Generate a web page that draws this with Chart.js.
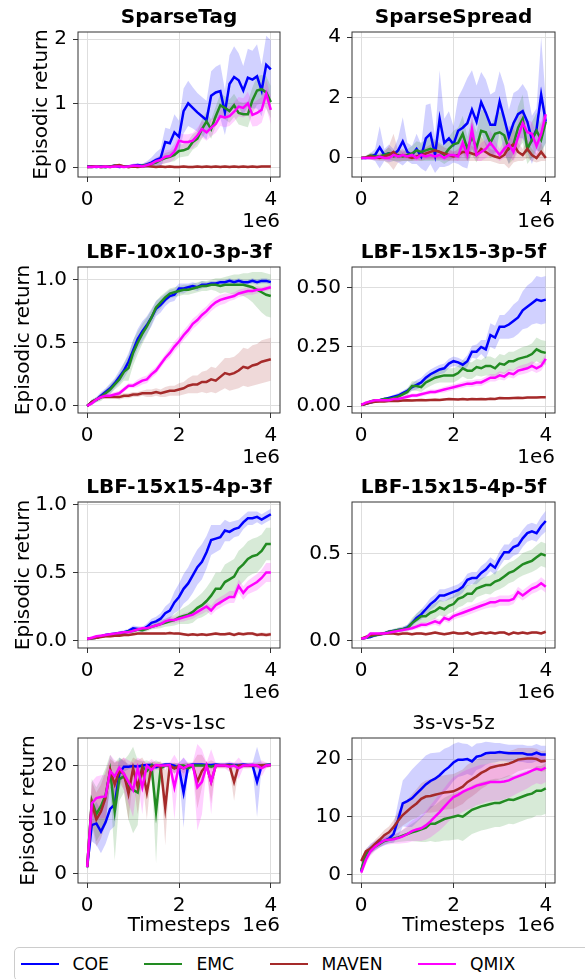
<!DOCTYPE html>
<html lang="en">
<head>
<meta charset="UTF-8">
<title>Episodic return curves</title>
<script src="https://cdn.jsdelivr.net/npm/chart.js@4"></script>
<style>
    body {
        margin: 0;
        width: 585px;
        height: 979px;
        overflow: hidden;
        position: relative;
        background: #fff;
        font-family: "DejaVu Sans", sans-serif;
    }
    .panel { position: absolute; }
    #legend {
        position: absolute;
        left: 14px;
        top: 947px;
        width: 620px;
        height: 32px;
        border: 1px solid #cccccc;
        border-radius: 5px;
        display: flex;
        align-items: center;
        padding-left: 5.5px;
        box-sizing: content-box;
        font-size: 17.2px;
        color: #000;
    }
    #legend .item { display: flex; align-items: center; margin-right: 35.5px; }
    #legend .swatch { width: 38px; height: 2.5px; margin-right: 14px; }
</style>
</head>
<body>
<div id="legend"></div>
<script>
// x axis, in units of 1e6 timesteps
const timesteps = [0, 0.1, 0.2, 0.3, 0.4, 0.5, 0.6, 0.7, 0.8, 0.9,
    1.0, 1.1, 1.2, 1.3, 1.4, 1.5, 1.6, 1.7, 1.8, 1.9,
    2.0, 2.1, 2.2, 2.3, 2.4, 2.5, 2.6, 2.7, 2.8, 2.9,
    3.0, 3.1, 3.2, 3.3, 3.4, 3.5, 3.6, 3.7, 3.8, 3.9, 4.0];
const xTicks = [0, 2, 4];
const xTickLabels = ['0', '2', '4'];

// ---- SparseTag ----
const tagCOE = [0.02,0.02,0.01,0.02,0.01,0.02,0.03,0.01,0.02,0.02, 0.03,0.04,0.03,0.05,0.08,0.12,0.15,0.40,0.38,0.55, 0.48,0.88,1.00,0.93,0.86,0.80,0.74,1.12,1.17,1.19, 0.86,1.30,1.41,1.36,1.20,1.40,1.37,1.42,1.20,1.60, 1.53];
const tagCOEStd = [0.02,0.02,0.02,0.02,0.02,0.02,0.02,0.02,0.02,0.02, 0.03,0.03,0.03,0.05,0.08,0.12,0.15,0.22,0.22,0.28, 0.25,0.35,0.35,0.32,0.30,0.30,0.30,0.38,0.40,0.42, 0.35,0.45,0.48,0.42,0.38,0.45,0.45,0.50,0.40,0.45, 0.45];
const tagEMC = [0.01,0.01,0.02,0.01,0.01,0.02,0.03,0.03,0.02,0.01, 0.02,0.02,0.03,0.04,0.06,0.08,0.12,0.15,0.17,0.20, 0.26,0.27,0.30,0.40,0.45,0.60,0.72,0.60,0.80,0.97, 0.93,0.88,0.97,0.85,0.83,0.83,1.05,1.20,1.22,1.17, 1.02];
const tagEMCStd = [0.02,0.02,0.02,0.02,0.02,0.02,0.02,0.02,0.02,0.02, 0.02,0.02,0.03,0.04,0.05,0.06,0.07,0.08,0.08,0.10, 0.10,0.10,0.12,0.12,0.12,0.15,0.15,0.15,0.15,0.18, 0.18,0.18,0.18,0.18,0.18,0.20,0.20,0.22,0.22,0.25, 0.25];
const tagMAVEN = [0.01,0.02,0.02,0.01,0.02,0.01,0.03,0.04,0.02,0.01, 0.02,0.01,0.02,0.03,0.02,0.01,0.02,0.01,0.02,0.01, 0.01,0.02,0.01,0.01,0.02,0.01,0.02,0.01,0.02,0.01, 0.02,0.01,0.02,0.01,0.02,0.01,0.02,0.01,0.02,0.02, 0.02];
const tagMAVENStd = [0.02,0.02,0.02,0.02,0.02,0.02,0.02,0.02,0.02,0.02, 0.02,0.02,0.02,0.02,0.02,0.02,0.02,0.02,0.02,0.02, 0.02,0.02,0.02,0.02,0.02,0.02,0.02,0.02,0.02,0.02, 0.02,0.02,0.02,0.02,0.02,0.02,0.02,0.02,0.02,0.02, 0.02];
const tagQMIX = [0.01,0.01,0.02,0.01,0.02,0.01,0.02,0.02,0.01,0.02, 0.03,0.03,0.02,0.04,0.06,0.10,0.12,0.17,0.18,0.25, 0.42,0.40,0.40,0.42,0.50,0.60,0.55,0.62,0.68,0.80, 0.78,0.80,0.87,0.95,0.93,1.00,0.82,0.85,0.90,1.15, 0.90];
const tagQMIXStd = [0.02,0.02,0.02,0.02,0.02,0.02,0.02,0.02,0.02,0.02, 0.03,0.03,0.03,0.04,0.05,0.06,0.08,0.10,0.10,0.12, 0.12,0.12,0.12,0.12,0.12,0.13,0.13,0.13,0.14,0.15, 0.15,0.15,0.15,0.15,0.15,0.18,0.18,0.20,0.20,0.22, 0.22];
const tagYTicks = [0, 1, 2];
const tagYLabels = ['0', '1', '2'];

// ---- SparseSpread ----
const spreadCOE = [0.0,0.0,0.05,0.1,0.35,0.1,0.15,0.1,0.25,0.55, 0.2,0.1,0.3,0.05,0.65,0.8,0.1,1.3,0.5,0.65, 0.45,0.9,1.0,1.15,1.6,1.2,1.85,1.5,1.1,1.1, 1.87,1.3,0.7,1.15,1.45,1.55,1.2,0.6,0.95,2.1, 1.2];
const spreadCOEStd = [0.0,0.05,0.1,0.2,0.7,0.2,0.3,0.2,0.4,0.8, 0.3,0.3,0.5,0.4,1.1,1.0,0.6,1.6,0.8,0.9, 0.6,1.1,1.3,1.5,1.3,1.2,1.0,1.1,1.0,1.1, 1.0,1.1,0.9,1.0,0.8,0.9,1.0,0.8,0.7,1.9, 0.7];
const spreadEMC = [0.0,0.02,0.08,0.05,0.05,0.1,0.15,0.05,0.1,0.05, 0.1,0.15,0.25,0.2,0.25,0.3,0.25,0.2,0.1,0.3, 0.45,0.5,0.8,0.3,0.7,0.35,0.9,0.85,0.5,0.8, 0.85,0.75,0.3,0.45,1.0,1.3,0.3,0.6,0.9,0.6, 1.2];
const spreadEMCStd = [0.0,0.05,0.1,0.1,0.1,0.15,0.2,0.15,0.2,0.15, 0.2,0.25,0.3,0.3,0.35,0.4,0.35,0.3,0.3,0.4, 0.45,0.5,0.6,0.4,0.6,0.5,0.7,0.7,0.5,0.6, 0.7,0.6,0.5,0.5,0.7,0.8,0.5,0.6,0.6,0.5, 0.7];
const spreadMAVEN = [0.0,0.02,0.05,0.02,0.0,0.05,0.1,0.2,0.05,0.1, 0.05,0.0,0.05,0.1,0.15,0.2,0.25,0.2,0.15,0.1, 0.05,0.1,0.2,0.2,0.15,0.1,0.3,0.2,0.1,0.05, 0.0,0.1,0.35,0.45,0.2,0.1,0.3,0.1,0.0,0.2, 0.0];
const spreadMAVENStd = [0.0,0.05,0.1,0.1,0.1,0.15,0.3,0.6,0.2,0.2, 0.15,0.1,0.15,0.2,0.2,0.25,0.3,0.25,0.2,0.2, 0.15,0.2,0.3,0.3,0.25,0.2,0.4,0.3,0.2,0.2, 0.2,0.3,0.7,0.6,0.3,0.2,0.3,0.2,0.15,0.3, 0.1];
const spreadQMIX = [0.0,0.0,0.0,0.0,0.05,0.0,0.0,0.1,0.05,0.1, 0.05,0.1,0.0,0.1,0.05,0.1,0.05,0.1,0.0,0.1, 0.1,0.05,0.5,0.1,0.95,0.1,0.2,0.3,0.5,0.3, 0.1,0.3,0.45,0.2,0.7,1.15,0.85,0.8,0.4,0.8, 1.45];
const spreadQMIXStd = [0.0,0.02,0.05,0.05,0.1,0.05,0.1,0.15,0.1,0.15, 0.1,0.15,0.1,0.15,0.1,0.15,0.1,0.15,0.1,0.15, 0.15,0.15,0.4,0.2,0.6,0.2,0.3,0.3,0.4,0.3, 0.2,0.3,0.4,0.3,0.5,0.5,0.4,0.4,0.4,0.4, 0.3];
const spreadYTicks = [0, 2, 4];
const spreadYLabels = ['0', '2', '4'];

// ---- LBF-10x10-3p-3f ----
const l10COE = [0.0,0.03,0.05,0.08,0.11,0.14,0.18,0.23,0.28,0.35, 0.44,0.53,0.59,0.64,0.70,0.77,0.80,0.84,0.87,0.88, 0.93,0.93,0.94,0.95,0.94,0.96,0.96,0.97,0.97,0.98, 0.98,0.99,0.98,0.99,0.98,0.98,0.99,0.98,0.99,0.99, 0.98];
const l10COEStd = [0.01,0.02,0.02,0.03,0.03,0.04,0.04,0.05,0.06,0.07, 0.08,0.08,0.08,0.07,0.07,0.06,0.06,0.05,0.05,0.05, 0.04,0.04,0.03,0.03,0.03,0.03,0.02,0.02,0.02,0.02, 0.02,0.02,0.02,0.02,0.02,0.02,0.02,0.02,0.02,0.02, 0.02];
const l10EMC = [0.0,0.03,0.05,0.07,0.10,0.13,0.17,0.21,0.27,0.30, 0.42,0.50,0.57,0.63,0.70,0.78,0.82,0.86,0.89,0.90, 0.91,0.92,0.92,0.93,0.94,0.95,0.95,0.96,0.96,0.95, 0.96,0.96,0.96,0.96,0.96,0.95,0.94,0.92,0.90,0.88, 0.87];
const l10EMCStd = [0.01,0.02,0.02,0.03,0.03,0.04,0.04,0.05,0.07,0.10, 0.10,0.09,0.08,0.07,0.06,0.05,0.05,0.04,0.04,0.04, 0.04,0.04,0.04,0.04,0.04,0.04,0.04,0.04,0.05,0.06, 0.06,0.07,0.08,0.08,0.09,0.10,0.12,0.14,0.16,0.17, 0.17];
const l10MAVEN = [0.0,0.03,0.05,0.07,0.07,0.07,0.07,0.07,0.08,0.08, 0.09,0.09,0.10,0.10,0.10,0.11,0.10,0.11,0.12,0.12, 0.13,0.14,0.16,0.17,0.17,0.19,0.19,0.21,0.20,0.23, 0.26,0.25,0.26,0.28,0.31,0.30,0.32,0.33,0.35,0.36, 0.37];
const l10MAVENStd = [0.01,0.01,0.01,0.01,0.01,0.01,0.01,0.02,0.02,0.02, 0.02,0.02,0.02,0.03,0.03,0.03,0.03,0.04,0.04,0.04, 0.05,0.05,0.06,0.07,0.07,0.08,0.09,0.10,0.10,0.11, 0.12,0.13,0.13,0.14,0.15,0.15,0.16,0.16,0.17,0.17, 0.17];
const l10QMIX = [0.0,0.02,0.05,0.07,0.08,0.08,0.09,0.10,0.13,0.16, 0.16,0.18,0.20,0.21,0.25,0.28,0.33,0.38,0.42,0.47, 0.51,0.56,0.60,0.65,0.68,0.72,0.75,0.79,0.82,0.84, 0.85,0.86,0.87,0.89,0.90,0.91,0.91,0.92,0.92,0.93, 0.94];
const l10QMIXStd = [0.01,0.01,0.01,0.02,0.02,0.02,0.02,0.02,0.02,0.02, 0.02,0.03,0.03,0.03,0.03,0.03,0.03,0.03,0.04,0.04, 0.04,0.04,0.04,0.04,0.04,0.04,0.04,0.04,0.04,0.04, 0.04,0.03,0.03,0.03,0.03,0.03,0.03,0.03,0.02,0.02, 0.02];
const l10YTicks = [0, 0.5, 1.0];
const l10YLabels = ['0.0', '0.5', '1.0'];

// ---- LBF-15x15-3p-5f ----
const l3p5fCOE = [0.005,0.01,0.015,0.02,0.025,0.03,0.035,0.04,0.045,0.055, 0.065,0.08,0.09,0.1,0.12,0.135,0.145,0.155,0.16,0.18, 0.19,0.185,0.175,0.19,0.23,0.23,0.25,0.24,0.3,0.29, 0.335,0.335,0.345,0.36,0.375,0.405,0.42,0.435,0.45,0.445, 0.45];
const l3p5fCOEStd = [0.003,0.005,0.005,0.005,0.005,0.005,0.006,0.008,0.01,0.01, 0.012,0.015,0.02,0.02,0.02,0.02,0.02,0.02,0.02,0.02, 0.02,0.02,0.02,0.025,0.025,0.03,0.03,0.04,0.05,0.05, 0.05,0.05,0.06,0.07,0.07,0.08,0.09,0.09,0.1,0.1, 0.1];
const l3p5fEMC = [0.005,0.01,0.02,0.025,0.025,0.03,0.03,0.035,0.04,0.05, 0.06,0.085,0.085,0.08,0.1,0.11,0.12,0.125,0.13,0.13, 0.13,0.14,0.16,0.15,0.15,0.165,0.16,0.17,0.17,0.16, 0.18,0.175,0.19,0.19,0.2,0.205,0.21,0.22,0.24,0.23, 0.225];
const l3p5fEMCStd = [0.003,0.005,0.005,0.005,0.005,0.005,0.005,0.006,0.008,0.01, 0.015,0.02,0.02,0.02,0.025,0.025,0.025,0.025,0.03,0.03, 0.03,0.03,0.035,0.035,0.035,0.035,0.035,0.04,0.04,0.04, 0.04,0.04,0.04,0.04,0.04,0.045,0.045,0.045,0.05,0.05, 0.05];
const l3p5fMAVEN = [0.005,0.01,0.015,0.018,0.02,0.02,0.022,0.022,0.022,0.024, 0.025,0.024,0.025,0.026,0.025,0.026,0.027,0.026,0.028,0.03, 0.029,0.028,0.03,0.028,0.03,0.029,0.03,0.029,0.031,0.03, 0.034,0.033,0.033,0.034,0.035,0.034,0.036,0.036,0.037,0.038, 0.038];
const l3p5fMAVENStd = [0.003,0.004,0.004,0.004,0.004,0.004,0.004,0.004,0.004,0.004, 0.004,0.004,0.004,0.004,0.004,0.004,0.004,0.004,0.004,0.004, 0.004,0.004,0.004,0.004,0.004,0.004,0.004,0.004,0.004,0.004, 0.004,0.004,0.004,0.004,0.004,0.004,0.004,0.004,0.004,0.004, 0.004];
const l3p5fQMIX = [0.005,0.015,0.02,0.025,0.025,0.025,0.025,0.03,0.03,0.035, 0.04,0.045,0.045,0.05,0.055,0.06,0.06,0.065,0.07,0.075, 0.08,0.085,0.09,0.095,0.095,0.1,0.1,0.11,0.12,0.12, 0.13,0.125,0.14,0.135,0.15,0.155,0.16,0.17,0.16,0.17, 0.2];
const l3p5fQMIXStd = [0.003,0.005,0.005,0.005,0.005,0.005,0.005,0.006,0.006,0.007, 0.008,0.008,0.008,0.009,0.01,0.01,0.01,0.01,0.012,0.012, 0.012,0.012,0.013,0.013,0.014,0.014,0.015,0.015,0.016,0.016, 0.017,0.017,0.018,0.018,0.019,0.02,0.02,0.02,0.02,0.02, 0.02];
const l3p5fYTicks = [0, 0.25, 0.5];
const l3p5fYLabels = ['0.00', '0.25', '0.50'];

// ---- LBF-15x15-4p-3f ----
const l4p3fCOE = [0.01,0.015,0.02,0.03,0.04,0.045,0.05,0.055,0.06,0.07, 0.09,0.085,0.08,0.1,0.13,0.14,0.16,0.2,0.22,0.28, 0.32,0.38,0.42,0.48,0.54,0.58,0.65,0.74,0.75,0.76, 0.81,0.8,0.82,0.83,0.87,0.9,0.9,0.91,0.89,0.91, 0.93];
const l4p3fCOEStd = [0.005,0.005,0.005,0.008,0.01,0.01,0.01,0.012,0.015,0.015, 0.02,0.02,0.02,0.025,0.03,0.035,0.04,0.05,0.06,0.08, 0.1,0.11,0.12,0.13,0.13,0.13,0.12,0.11,0.1,0.09, 0.08,0.07,0.06,0.06,0.05,0.05,0.05,0.04,0.04,0.04, 0.04];
const l4p3fEMC = [0.01,0.015,0.02,0.03,0.035,0.04,0.045,0.05,0.055,0.065, 0.07,0.08,0.075,0.085,0.1,0.11,0.12,0.13,0.14,0.15, 0.17,0.18,0.19,0.21,0.24,0.26,0.29,0.33,0.38,0.38, 0.43,0.45,0.47,0.53,0.56,0.6,0.62,0.63,0.66,0.71, 0.71];
const l4p3fEMCStd = [0.005,0.005,0.005,0.008,0.01,0.01,0.01,0.01,0.012,0.012, 0.015,0.015,0.015,0.02,0.02,0.025,0.03,0.03,0.035,0.04, 0.05,0.06,0.07,0.08,0.08,0.09,0.1,0.11,0.12,0.12, 0.13,0.13,0.13,0.13,0.13,0.13,0.13,0.13,0.12,0.12, 0.12];
const l4p3fMAVEN = [0.01,0.015,0.02,0.025,0.03,0.03,0.035,0.035,0.04,0.04, 0.045,0.05,0.05,0.05,0.05,0.05,0.05,0.05,0.055,0.05, 0.05,0.045,0.04,0.045,0.04,0.045,0.04,0.045,0.05,0.045, 0.045,0.05,0.04,0.05,0.045,0.05,0.05,0.04,0.045,0.04, 0.045];
const l4p3fMAVENStd = [0.005,0.008,0.008,0.008,0.01,0.01,0.01,0.01,0.01,0.01, 0.01,0.01,0.01,0.01,0.01,0.01,0.01,0.01,0.01,0.01, 0.01,0.01,0.01,0.01,0.01,0.01,0.01,0.01,0.012,0.012, 0.012,0.012,0.012,0.012,0.012,0.012,0.012,0.012,0.015,0.015, 0.015];
const l4p3fQMIX = [0.01,0.02,0.03,0.035,0.04,0.045,0.05,0.055,0.06,0.06, 0.07,0.08,0.09,0.09,0.1,0.11,0.12,0.14,0.15,0.15, 0.16,0.17,0.18,0.19,0.21,0.23,0.25,0.22,0.26,0.28, 0.3,0.32,0.32,0.4,0.35,0.39,0.41,0.43,0.46,0.5, 0.5];
const l4p3fQMIXStd = [0.005,0.005,0.008,0.01,0.01,0.01,0.01,0.01,0.01,0.01, 0.012,0.012,0.015,0.015,0.015,0.02,0.02,0.02,0.025,0.025, 0.025,0.03,0.03,0.03,0.03,0.035,0.035,0.035,0.04,0.04, 0.04,0.045,0.045,0.05,0.05,0.05,0.055,0.06,0.06,0.07, 0.07];
const l4p3fYTicks = [0, 0.5, 1.0];
const l4p3fYLabels = ['0.0', '0.5', '1.0'];

// ---- LBF-15x15-4p-5f ----
const l4p5fCOE = [0.01,0.015,0.02,0.03,0.035,0.04,0.05,0.055,0.06,0.065, 0.075,0.1,0.13,0.15,0.18,0.21,0.23,0.26,0.26,0.27, 0.28,0.29,0.31,0.35,0.36,0.36,0.39,0.41,0.44,0.42, 0.47,0.51,0.51,0.54,0.55,0.59,0.62,0.63,0.62,0.66, 0.69];
const l4p5fCOEStd = [0.005,0.005,0.008,0.01,0.01,0.01,0.01,0.01,0.012,0.012, 0.015,0.02,0.025,0.03,0.03,0.035,0.035,0.035,0.035,0.035, 0.035,0.035,0.035,0.035,0.035,0.035,0.04,0.04,0.04,0.04, 0.045,0.045,0.045,0.05,0.05,0.05,0.05,0.05,0.05,0.055, 0.06];
const l4p5fEMC = [0.01,0.015,0.025,0.03,0.035,0.04,0.05,0.055,0.06,0.065, 0.07,0.1,0.12,0.14,0.14,0.16,0.17,0.19,0.18,0.2, 0.21,0.24,0.25,0.27,0.27,0.3,0.31,0.32,0.32,0.34, 0.35,0.37,0.39,0.4,0.42,0.44,0.45,0.46,0.48,0.5, 0.49];
const l4p5fEMCStd = [0.005,0.005,0.008,0.01,0.01,0.01,0.01,0.012,0.015,0.015, 0.02,0.03,0.035,0.04,0.04,0.045,0.045,0.045,0.045,0.045, 0.045,0.05,0.05,0.05,0.05,0.05,0.05,0.05,0.055,0.055, 0.055,0.06,0.06,0.06,0.06,0.065,0.065,0.065,0.07,0.07, 0.07];
const l4p5fMAVEN = [0.01,0.02,0.03,0.035,0.035,0.04,0.04,0.04,0.035,0.04, 0.04,0.035,0.04,0.04,0.035,0.04,0.045,0.04,0.035,0.04, 0.045,0.04,0.04,0.045,0.035,0.04,0.045,0.04,0.045,0.04, 0.045,0.045,0.035,0.045,0.04,0.045,0.04,0.045,0.045,0.04, 0.05];
const l4p5fMAVENStd = [0.005,0.008,0.008,0.008,0.008,0.008,0.008,0.008,0.008,0.008, 0.008,0.008,0.008,0.008,0.008,0.008,0.008,0.008,0.008,0.008, 0.008,0.008,0.008,0.008,0.008,0.008,0.008,0.008,0.008,0.008, 0.008,0.008,0.008,0.008,0.008,0.008,0.008,0.008,0.008,0.008, 0.008];
const l4p5fQMIX = [0.01,0.015,0.04,0.04,0.04,0.04,0.045,0.05,0.055,0.06, 0.065,0.07,0.08,0.09,0.09,0.1,0.11,0.1,0.13,0.12, 0.14,0.15,0.16,0.17,0.18,0.19,0.2,0.21,0.22,0.22, 0.23,0.23,0.23,0.24,0.28,0.26,0.28,0.3,0.31,0.33, 0.31];
const l4p5fQMIXStd = [0.005,0.005,0.008,0.008,0.008,0.01,0.01,0.01,0.01,0.01, 0.012,0.012,0.015,0.015,0.015,0.015,0.02,0.02,0.02,0.02, 0.02,0.02,0.025,0.025,0.025,0.025,0.025,0.025,0.03,0.03, 0.03,0.03,0.03,0.03,0.03,0.03,0.03,0.03,0.03,0.035, 0.035];
const l4p5fYTicks = [0, 0.5];
const l4p5fYLabels = ['0.0', '0.5'];

// ---- 2s-vs-1sc ----
const sc1COE = [1.2,9.0,9.3,7.8,9.5,12.0,12.8,18.5,19.8,19.8, 19.9,19.8,20.0,20.1,20.1,19.7,20.0,20.2,20.2,20.0, 19.5,15.0,20.0,20.2,20.2,20.2,20.1,20.1,20.2,20.1, 20.1,20.2,20.1,20.1,20.2,20.1,20.1,17.0,20.0,20.1, 20.2];
const sc1COEStd = [0.5,3.0,4.0,4.0,4.0,4.0,4.0,3.0,1.0,0.5, 0.3,0.5,0.3,0.3,0.3,0.5,0.3,0.3,0.3,0.3, 1.0,6.5,0.3,0.3,0.3,0.3,0.3,0.3,0.3,0.3, 0.3,0.3,0.3,0.3,0.3,0.3,0.3,6.5,0.5,0.3, 0.3];
const sc1EMC = [1.2,13.5,11.0,12.5,14.5,19.0,11.5,17.5,18.0,16.0, 15.5,15.0,19.8,19.0,20.0,11.5,19.5,20.0,20.0,19.5, 20.0,20.0,19.5,20.0,20.0,20.0,20.0,19.8,20.0,20.0, 20.0,20.0,20.0,19.9,20.0,20.0,20.0,20.0,20.0,20.1, 20.1];
const sc1EMCStd = [0.5,4.0,5.0,5.0,5.0,3.0,9.0,4.0,3.0,6.0, 8.0,6.0,1.0,2.0,0.5,9.5,1.0,0.3,0.3,1.0, 0.3,0.3,1.0,0.3,0.3,0.3,0.3,0.5,0.3,0.3, 0.3,0.3,0.3,0.3,0.3,0.3,0.3,0.3,0.3,0.3, 0.3];
const sc1MAVEN = [1.2,13.0,10.0,11.5,14.0,19.2,16.5,19.0,18.5,14.8, 19.5,16.0,19.5,15.0,19.8,20.0,19.8,12.2,20.0,19.5, 19.8,19.5,20.0,20.0,17.0,19.0,20.0,17.0,20.0,20.0, 20.0,20.0,17.0,20.0,20.0,20.0,20.0,20.0,20.0,20.0, 20.1];
const sc1MAVENStd = [0.5,4.0,5.0,5.0,5.0,2.0,4.0,2.0,3.0,5.0, 2.0,5.0,2.0,5.0,1.0,0.5,1.0,7.0,0.5,1.0, 0.5,1.0,0.5,0.5,5.0,3.0,0.5,4.0,0.5,0.5, 0.5,0.5,3.5,0.5,0.5,0.5,0.5,0.5,0.5,0.5, 0.3];
const sc1QMIX = [1.2,13.0,14.0,14.2,14.3,19.0,18.0,19.6,18.5,17.0, 15.5,19.5,16.0,20.0,19.2,20.1,20.0,20.0,20.1,16.0, 20.0,19.5,20.0,20.1,16.0,17.0,20.0,17.0,20.0,20.0, 20.0,19.8,20.0,19.5,20.0,20.0,20.1,20.0,19.5,20.0, 20.1];
const sc1QMIXStd = [0.5,4.0,4.0,4.0,4.0,3.0,3.0,1.0,3.0,4.0, 5.0,2.0,5.0,0.5,2.0,0.5,0.5,0.5,0.5,6.0, 0.5,2.0,0.5,0.5,8.0,6.0,0.5,6.0,0.5,0.5, 0.5,1.0,0.5,2.0,0.5,0.5,0.5,0.5,1.5,0.5, 0.3];
const sc1YTicks = [0, 10, 20];
const sc1YLabels = ['0', '10', '20'];

// ---- 3s-vs-5z ----
const z5COE = [0.5,3.5,4.5,5.0,5.5,5.8,6.2,7.0,9.5,12.3, 12.7,13.2,14.0,14.8,15.6,16.2,16.6,17.2,18.0,18.6, 19.4,19.9,19.9,20.0,19.6,20.4,20.6,21.0,21.1,21.1, 21.2,21.1,21.0,21.0,21.0,21.0,20.8,20.8,21.1,20.8, 20.8];
const z5COEStd = [0.5,0.8,0.8,0.8,0.8,0.8,0.8,1.5,3.0,4.0, 4.5,5.0,5.0,5.0,5.0,4.8,4.5,4.0,3.8,3.5, 3.2,3.0,2.8,2.6,2.5,2.3,2.2,2.0,1.8,1.7, 1.6,1.5,1.5,1.5,1.5,1.5,1.5,1.5,1.5,1.5, 1.5];
const z5EMC = [0.8,3.5,4.0,4.8,5.3,5.8,6.0,6.2,6.4,6.7, 7.0,7.3,7.5,7.8,8.1,8.8,8.8,9.2,9.6,9.8, 10.0,10.2,10.0,10.6,11.2,11.5,11.8,12.0,12.2,12.4, 12.4,12.7,13.0,12.9,13.2,13.5,13.8,14.0,14.5,14.5, 14.9];
const z5EMCStd = [0.5,0.6,0.6,0.6,0.6,0.6,0.6,0.7,0.8,1.0, 1.2,1.5,1.8,2.2,2.5,3.0,3.2,3.5,3.7,3.9, 4.0,4.1,4.2,4.2,4.2,4.2,4.2,4.2,4.2,4.2, 4.2,4.2,4.2,4.2,4.2,4.2,4.2,4.2,4.3,4.3, 4.4];
const z5MAVEN = [2.3,4.0,4.5,5.3,6.0,6.8,7.3,8.2,9.3,10.3, 11.0,11.7,12.3,13.1,13.5,13.6,13.8,14.0,14.2,14.3, 14.4,14.8,15.2,16.0,16.5,17.0,17.6,18.0,18.5,18.7, 18.9,19.0,19.2,19.5,19.9,20.0,20.1,20.1,20.0,19.6, 19.7];
const z5MAVENStd = [0.5,0.5,0.6,0.7,0.8,0.9,1.0,1.2,1.5,1.8, 2.0,2.2,2.5,2.7,2.8,2.9,3.0,3.0,3.0,3.0, 3.0,3.0,3.0,3.0,3.0,2.9,2.8,2.7,2.6,2.5, 2.4,2.3,2.2,2.1,2.0,1.9,1.8,1.8,1.8,1.8, 1.8];
const z5QMIX = [0.3,2.5,4.0,4.8,5.4,5.9,6.0,6.1,6.3,6.6, 7.0,7.5,7.8,8.0,8.5,9.2,10.0,10.8,11.7,12.6, 13.4,13.8,14.3,14.7,15.0,15.4,15.6,15.8,16.0,16.0, 16.0,16.1,16.3,16.7,17.0,17.3,17.6,18.0,18.3,18.1, 18.5];
const z5QMIXStd = [0.5,0.8,0.8,0.8,0.8,0.8,0.8,0.8,1.0,1.2, 1.5,1.8,2.0,2.2,2.5,2.8,3.0,3.2,3.3,3.4, 3.5,3.5,3.5,3.5,3.5,3.4,3.4,3.3,3.3,3.2, 3.2,3.1,3.0,3.0,2.9,2.8,2.7,2.6,2.5,2.5, 2.5];
const z5YTicks = [0, 10, 20];
const z5YLabels = ['0', '10', '20'];

// methods and their styles
const methodNames = ['COE', 'EMC', 'MAVEN', 'QMIX'];
const methodColors = ['#0000ff', '#228b22', '#a52a2a', '#ff00ff'];
const bandColors = ['rgba(0,0,255,0.18)', 'rgba(34,139,34,0.18)', 'rgba(165,42,42,0.18)', 'rgba(255,0,255,0.18)'];

const panels = [
    { title: 'SparseTag', bold: true, mean: [tagCOE, tagEMC, tagMAVEN, tagQMIX], std: [tagCOEStd, tagEMCStd, tagMAVENStd, tagQMIXStd], yMin: -0.145, yMax: 2.11, yTicks: tagYTicks, yLabels: tagYLabels },
    { title: 'SparseSpread', bold: true, mean: [spreadCOE, spreadEMC, spreadMAVEN, spreadQMIX], std: [spreadCOEStd, spreadEMCStd, spreadMAVENStd, spreadQMIXStd], yMin: -0.63, yMax: 4.17, yTicks: spreadYTicks, yLabels: spreadYLabels },
    { title: 'LBF-10x10-3p-3f', bold: true, mean: [l10COE, l10EMC, l10MAVEN, l10QMIX], std: [l10COEStd, l10EMCStd, l10MAVENStd, l10QMIXStd], yMin: -0.056, yMax: 1.10, yTicks: l10YTicks, yLabels: l10YLabels },
    { title: 'LBF-15x15-3p-5f', bold: true, mean: [l3p5fCOE, l3p5fEMC, l3p5fMAVEN, l3p5fQMIX], std: [l3p5fCOEStd, l3p5fEMCStd, l3p5fMAVENStd, l3p5fQMIXStd], yMin: -0.029, yMax: 0.588, yTicks: l3p5fYTicks, yLabels: l3p5fYLabels },
    { title: 'LBF-15x15-4p-3f', bold: true, mean: [l4p3fCOE, l4p3fEMC, l4p3fMAVEN, l4p3fQMIX], std: [l4p3fCOEStd, l4p3fEMCStd, l4p3fMAVENStd, l4p3fQMIXStd], yMin: -0.056, yMax: 1.02, yTicks: l4p3fYTicks, yLabels: l4p3fYLabels },
    { title: 'LBF-15x15-4p-5f', bold: true, mean: [l4p5fCOE, l4p5fEMC, l4p5fMAVEN, l4p5fQMIX], std: [l4p5fCOEStd, l4p5fEMCStd, l4p5fMAVENStd, l4p5fQMIXStd], yMin: -0.044, yMax: 0.80, yTicks: l4p5fYTicks, yLabels: l4p5fYLabels },
    { title: '2s-vs-1sc', bold: false, mean: [sc1COE, sc1EMC, sc1MAVEN, sc1QMIX], std: [sc1COEStd, sc1EMCStd, sc1MAVENStd, sc1QMIXStd], yMin: -1.72, yMax: 25.1, yTicks: sc1YTicks, yLabels: sc1YLabels },
    { title: '3s-vs-5z', bold: false, mean: [z5COE, z5EMC, z5MAVEN, z5QMIX], std: [z5COEStd, z5EMCStd, z5MAVENStd, z5QMIXStd], yMin: -1.49, yMax: 23.65, yTicks: z5YTicks, yLabels: z5YLabels }
];

// grid cells: canvas placement and axis box sizes
const cols = [
    { left: 0, w: 290, yw: 78, padRight: 10 },
    { left: 290, w: 295, yw: 62, padRight: 30 }
];
const rows = [
    { top: 0, h: 235, padTop: 32, xh: 58, offY: 50 },
    { top: 235, h: 235, padTop: 32, xh: 57, offY: 50 },
    { top: 470, h: 235, padTop: 32, xh: 57, offY: 50 },
    { top: 705, h: 240, padTop: 33, xh: 62, offY: 48 }
];
const yLabelX = [47, 28.5, 28.5, 33.5];

const FONT = '"DejaVu Sans", sans-serif';
Chart.defaults.font.family = FONT;
Chart.defaults.color = '#000';

function toPoints(ys) {
    return timesteps.map((x, i) => ({ x: x, y: ys[i] }));
}

function makePanel(p, idx) {
    const col = cols[idx % 2], row = rows[Math.floor(idx / 2)];
    const rowIdx = Math.floor(idx / 2);
    const canvas = document.createElement('canvas');
    canvas.className = 'panel';
    canvas.width = col.w;
    canvas.height = row.h;
    canvas.style.left = col.left + 'px';
    canvas.style.top = row.top + 'px';
    document.body.appendChild(canvas);

    const datasets = [];
    methodNames.forEach((name, k) => {
        const m = p.mean[k], s = p.std[k];
        datasets.push({ data: toPoints(m.map((v, i) => v + s[i])), borderWidth: 0, borderColor: 'transparent',
            backgroundColor: bandColors[k], fill: '+1', pointRadius: 0, order: 20 - k });
        datasets.push({ data: toPoints(m.map((v, i) => v - s[i])), borderWidth: 0, borderColor: 'transparent',
            fill: false, pointRadius: 0, order: 20 - k });
    });
    methodNames.forEach((name, k) => {
        datasets.push({ label: name, data: toPoints(p.mean[k]), borderColor: methodColors[k], borderWidth: 2.5,
            pointRadius: 0, fill: false, tension: 0, order: 4 - k });
    });

    // axes frame and the text matplotlib puts around each panel
    const decor = {
        id: 'decor' + idx,
        afterDatasetsDraw(chart) {
            const a = chart.chartArea, ctx = chart.ctx;
            ctx.save();
            ctx.strokeStyle = '#333';
            ctx.lineWidth = 1;
            ctx.strokeRect(a.left, a.top, a.right - a.left, a.bottom - a.top);
            ctx.restore();
        },
        afterDraw(chart) {
            const a = chart.chartArea, ctx = chart.ctx;
            const cx = (a.left + a.right) / 2;
            ctx.save();
            ctx.fillStyle = '#000';
            ctx.textBaseline = 'alphabetic';
            ctx.font = (p.bold ? 'bold ' : '') + '20px ' + FONT;
            ctx.textAlign = 'center';
            ctx.fillText(p.title, cx, a.top - 9);
            ctx.font = '20px ' + FONT;
            ctx.textAlign = 'right';
            ctx.fillText('1e6', a.right, a.bottom + row.offY);
            if (rowIdx === 3) {
                ctx.textAlign = 'center';
                ctx.fillText('Timesteps', cx, a.bottom + row.offY);
            }
            if (idx % 2 === 0) {
                ctx.translate(yLabelX[rowIdx], (a.top + a.bottom) / 2);
                ctx.rotate(-Math.PI / 2);
                ctx.textAlign = 'center';
                ctx.fillText('Episodic return', 0, 0);
            }
            ctx.restore();
        }
    };

    new Chart(canvas, {
        type: 'line',
        data: { datasets: datasets },
        options: {
            responsive: false,
            animation: false,
            events: [],
            layout: { padding: { left: 0, top: row.padTop, right: col.padRight, bottom: 0 } },
            plugins: { legend: { display: false }, tooltip: { enabled: false } },
            scales: {
                x: {
                    type: 'linear', min: -0.2, max: 4.2,
                    afterBuildTicks: s => { s.ticks = xTicks.map(v => ({ value: v })); },
                    afterFit: s => { s.height = row.xh; },
                    ticks: { font: { size: 20 }, color: '#000', padding: 6, maxRotation: 0, autoSkip: false,
                        callback: (v, i) => xTickLabels[i] },
                    grid: { color: '#dedede', lineWidth: 1, tickColor: '#333', tickLength: 5 },
                    border: { display: false }
                },
                y: {
                    type: 'linear', min: p.yMin, max: p.yMax,
                    afterBuildTicks: s => { s.ticks = p.yTicks.map(v => ({ value: v })); },
                    afterFit: s => { s.width = col.yw; },
                    ticks: { font: { size: 20 }, color: '#000', padding: 6, autoSkip: false,
                        callback: (v, i) => p.yLabels[i] },
                    grid: { color: '#dedede', lineWidth: 1, tickColor: '#333', tickLength: 5 },
                    border: { display: false }
                }
            }
        },
        plugins: [decor]
    });
}

panels.forEach(makePanel);

// shared legend under the grid
const legend = document.getElementById('legend');
methodNames.forEach((name, k) => {
    const item = document.createElement('div');
    item.className = 'item';
    item.innerHTML = '<span class="swatch" style="background:' + methodColors[k] + '"></span><span>' + name + '</span>';
    legend.appendChild(item);
});
</script>
</body>
</html>
